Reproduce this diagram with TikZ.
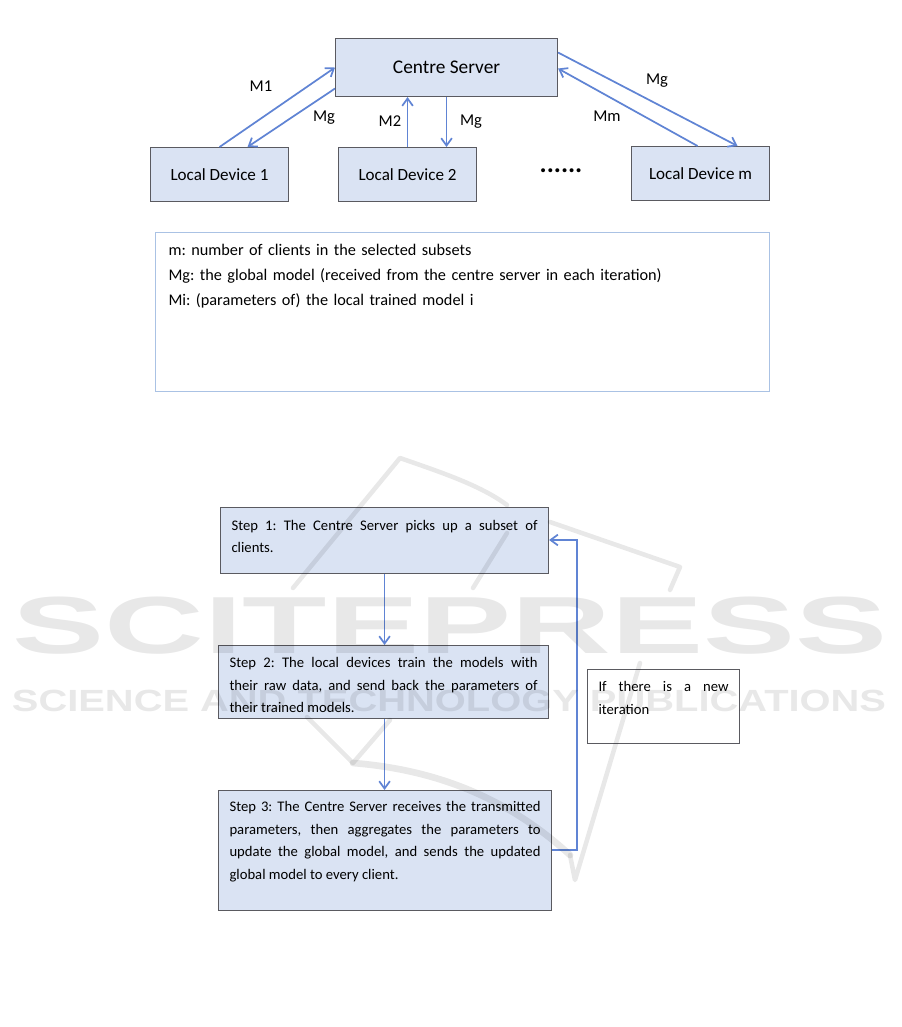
\documentclass[tikz,border=0pt]{standalone}
\usepackage{fontspec}
\setmainfont{Carlito}
\newfontfamily\markfont{Liberation Sans}
\usepackage{tikz}
\usetikzlibrary{calc, arrows.meta}
\usepackage{xcolor}
\definecolor{boxFill}{RGB}{218, 227, 243}
\definecolor{boxEdge}{RGB}{90, 90, 96}
\definecolor{flowLine}{RGB}{96, 132, 212}
\definecolor{noteEdge}{RGB}{170, 194, 228}

\begin{document}
\frenchspacing
\hyphenpenalty=10000
\tolerance=9999
\hbadness=10000
\begin{tikzpicture}[
  x=0.75pt, y=-0.75pt,
  box/.style={draw=boxEdge, fill=boxFill, line width=0.8pt, anchor=north west, inner sep=0pt, minimum width=103.5pt, minimum height=40.5pt, font=\fontsize{12.8}{14}\selectfont},
  stepbox/.style={draw=boxEdge, fill=boxFill, line width=0.8pt, anchor=north west, inner xsep=8.25pt, align=justify, text height=8pt, font=\fontsize{11}{16.9}\selectfont},
  tag/.style={inner sep=0pt, font=\fontsize{12.4}{14}\selectfont},
  flow/.style={->, flowLine, line width=1.3pt},
  >={Straight Barb[length=5.5pt, width=8pt]},
  wash/.style={draw=black, opacity=0.09, line width=3.4pt, line cap=round, line join=round}
]
  \useasboundingbox (0,0) rectangle (901,1027);

  % Top diagram
  \node[box, minimum width=166.5pt, minimum height=43.5pt, font=\fontsize{14.5}{16}\selectfont] (server) at (335,38) {Centre Server};
  \node[box] (dev1) at (150,147) {Local Device 1};
  \node[box] (dev2) at (338,147) {Local Device 2};
  \node[box] (devm) at (631,146) {Local Device m};
  \node[tag, font=\bfseries\fontsize{20}{20}\selectfont] (gap) at (561,171) {......};

  \draw[flow] (dev1.north) -- (server.west);
  \draw[flow] ($(server.west)+(0,21)$) -- ($(dev1.north)+(28,0)$);
  \draw[flow] (dev2.north) -- ($(server.south)+(-39,0)$);
  \draw[flow] (server.south) -- ($(dev2.north)+(39,0)$);
  \draw[flow] ($(devm.north)+(-3,0)$) -- ($(server.east)+(0,1)$);
  \draw[flow] ($(server.east)+(0,-15)$) -- ($(devm.north)+(37,0)$);

  \node[tag] (m1) at (261,86) {M1};
  \node[tag] (mg1) at (324,118) {Mg};
  \node[tag] (m2) at (390,121) {M2};
  \node[tag] (mg2) at (471,122) {Mg};
  \node[tag] (mg3) at (657,81) {Mg};
  \node[tag] (mm) at (607,116) {Mm};

  % Legend
  \node[draw=noteEdge, line width=0.8pt, anchor=north west, text width=441pt, inner xsep=9.75pt, inner ysep=9.25pt, text height=8pt, text depth=92.75pt, align=left, font=\fontsize{12.2}{18.75}\selectfont] (legend) at (155,232)
    {m: number of clients in the selected subsets\\
     Mg: the global model (received from the centre server in each iteration)\\
     Mi: (parameters of) the local trained model i};

  % Steps
  \node[stepbox, text width=229.5pt, text depth=23.5pt, inner ysep=9pt] (step1) at (220,507)
    {Step 1: The Centre Server picks up a subset of\linebreak clients.};
  \node[stepbox, text width=231pt, text depth=29.75pt, inner ysep=8.5pt] (step2) at (218,645)
    {Step 2: The local devices train the models with\linebreak their raw data, and send back the parameters of\linebreak their trained models.};
  \node[stepbox, text width=233.25pt, text depth=66.5pt, inner ysep=7.75pt] (step3) at (218,790)
    {Step 3: The Centre Server receives the transmitted\linebreak parameters, then aggregates the parameters to\linebreak update the global model, and sends the updated\linebreak global model to every client.};
  \node[stepbox, fill=white, text width=97.5pt, text depth=30.5pt, inner ysep=8.5pt] (again) at (587,669)
    {If there is a new\linebreak iteration};

  \draw[flow] (step1.south) -- (step2.north -| step1.south);
  \draw[flow] (step2.south -| step1.south) -- (step3.north -| step1.south);
  \coordinate (turn) at (577,850);
  \draw[flow] (turn -| step3.east) -- (turn) -- (turn |- 0,540) -- (step1.east |- 0,540);

  % Watermark
  \node[inner sep=0pt, text=black, opacity=0.09, xscale=1.705, font=\markfont\bfseries\fontsize{60.75}{60}\selectfont] (markA) at (450,626) {SCITEPRESS};
  \node[inner sep=0pt, text=black, opacity=0.09, xscale=1.3, font=\markfont\bfseries\fontsize{23}{24}\selectfont] (markB) at (449,701) {SCIENCE AND TECHNOLOGY PUBLICATIONS};
  \draw[wash] (293,588) -- (400,458) .. controls (440,472) and (480,485) .. (507,505) (550,522) -- (680,567) -- (670,590);
  \draw[wash] (507,533) -- (473,588);
  \draw[wash] (307,717) -- (353,763) -- (390,720);
  \draw[wash, line width=5pt] (353,763) .. controls (440,770) and (510,800) .. (570,855);
  \draw[wash] (570,855) -- (575,880) -- (640,663);
\end{tikzpicture}
\end{document}
